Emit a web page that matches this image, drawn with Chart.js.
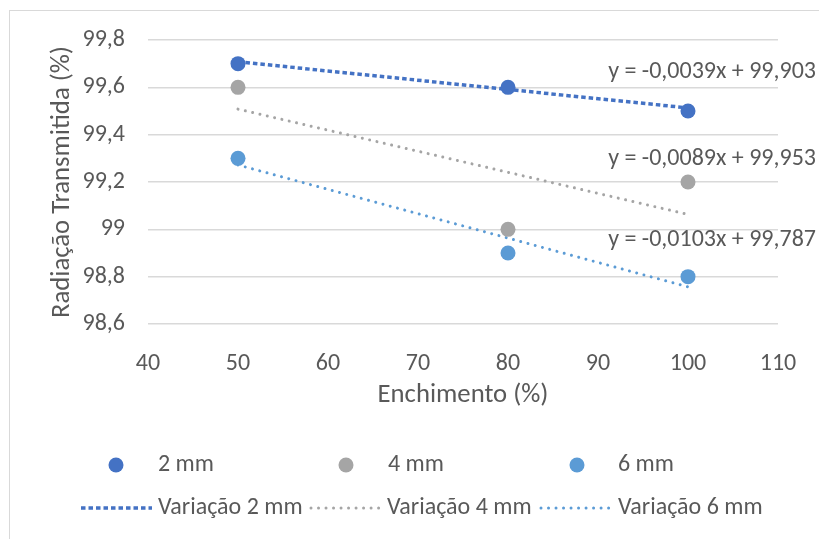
<!DOCTYPE html>
<html>
<head>
<meta charset="utf-8">
<script src="https://cdn.jsdelivr.net/npm/chart.js@4"></script>
<style>
html,body{margin:0;padding:0;background:#fff;overflow:hidden;}
#wrap{position:relative;width:819px;height:539px;}
</style>
</head>
<body>
<div id="wrap"><canvas id="c" width="819" height="539"></canvas></div>
<script>
// ---- data ----
const fillLevels = [50, 80, 100];            // Enchimento (%)
const series2mm = [99.7, 99.6, 99.5];
const series4mm = [99.6, 99.0, 99.2];
const series6mm = [99.3, 98.9, 98.8];
const seriesNames = ['2 mm', '4 mm', '6 mm'];
const trendNames = ['Variação 2 mm', 'Variação 4 mm', 'Variação 6 mm'];
const trendSlopes = [-0.0039, -0.0089, -0.0103];
const trendIntercepts = [99.903, 99.953, 99.787];
const trendLabels = ['y = -0,0039x + 99,903', 'y = -0,0089x + 99,953', 'y = -0,0103x + 99,787'];
const xTicks = [40, 50, 60, 70, 80, 90, 100, 110];
const yTicks = [98.6, 98.8, 99.0, 99.2, 99.4, 99.6, 99.8];

const colors = ['#4472C4', '#A5A5A5', '#5B9BD5'];
const FONT = 'Carlito, Lato, "Open Sans", sans-serif';
const TXT = '#595959';

const allSeries = [series2mm, series4mm, series6mm];
const xMin = Math.min(...fillLevels), xMax = Math.max(...fillLevels);

const pointSets = allSeries.map((s, i) => ({
  type: 'scatter',
  label: seriesNames[i],
  data: fillLevels.map((x, j) => ({x: x, y: s[j]})),
  backgroundColor: colors[i],
  borderColor: colors[i],
  pointRadius: 7.5,
  pointHoverRadius: 7.5,
  borderWidth: 0,
  order: 1
}));
const dashStyles = [
  {w: 3.5, dash: [4.5, 3], cap: 'butt'},
  {w: 3, dash: [0.01, 7.5], cap: 'round'},
  {w: 3, dash: [0.01, 7.5], cap: 'round'}
];
const trendSets = trendSlopes.map((m, i) => ({
  type: 'line',
  label: trendNames[i],
  data: [{x: xMin, y: m * xMin + trendIntercepts[i]}, {x: xMax, y: m * xMax + trendIntercepts[i]}],
  borderColor: colors[i],
  borderWidth: dashStyles[i].w,
  borderDash: dashStyles[i].dash,
  borderCapStyle: dashStyles[i].cap,
  pointRadius: 0,
  fill: false,
  order: 2
}));

function fmt(v) {
  return String(Number(Number(v).toFixed(1))).replace('.', ',');
}

const decor = {
  id: 'decor',
  beforeDraw(chart) {
    const ctx = chart.ctx;
    ctx.save();
    ctx.strokeStyle = '#D9D9D9';
    ctx.lineWidth = 1;
    ctx.strokeRect(9.5, 10.5, 1000, 1000);
    ctx.restore();
  },
  afterDraw(chart) {
    const ctx = chart.ctx;
    const ys = chart.scales.y;
    ctx.save();
    ctx.fillStyle = TXT;
    ctx.textBaseline = 'middle';
    // trendline equation labels
    ctx.font = '24px ' + FONT;
    ctx.textAlign = 'right';
    const labelAnchors = [99.665, 99.297, 98.955];
    trendLabels.forEach((t, i) => {
      ctx.fillText(t, 816, ys.getPixelForValue(labelAnchors[i]));
    });
    // custom legend
    ctx.font = '24px ' + FONT;
    ctx.textAlign = 'left';
    const colX = [116, 346, 577];
    const txtX = [158, 388, 618];
    const lineX = [[81, 152], [311, 379], [541, 609]];
    const row1 = 465, row2 = 508;
    seriesNames.forEach((n, i) => {
      ctx.fillStyle = colors[i];
      ctx.beginPath();
      ctx.arc(colX[i], row1, 7.5, 0, Math.PI * 2);
      ctx.fill();
      ctx.fillStyle = TXT;
      ctx.fillText(n, txtX[i], row1);
    });
    trendNames.forEach((n, i) => {
      ctx.strokeStyle = colors[i];
      ctx.lineWidth = dashStyles[i].w;
      ctx.setLineDash(dashStyles[i].dash);
      ctx.lineCap = dashStyles[i].cap;
      ctx.beginPath();
      ctx.moveTo(lineX[i][0], row2);
      ctx.lineTo(lineX[i][1], row2);
      ctx.stroke();
      ctx.setLineDash([]);
      ctx.fillStyle = TXT;
      ctx.fillText(n, i === 1 ? 387 : txtX[i], row2);
    });
    ctx.restore();
  }
};

new Chart(document.getElementById('c'), {
  data: {datasets: [...trendSets, ...pointSets]},
  options: {
    responsive: false,
    animation: false,
    events: [],
    layout: {padding: {left: 0, top: 40, right: 41, bottom: 0}},
    plugins: {legend: {display: false}, tooltip: {enabled: false}},
    scales: {
      x: {
        type: 'linear',
        min: 40, max: 110,
        afterBuildTicks(s) { s.ticks = xTicks.map(v => ({value: v})); },
        afterFit(s) { s.height = 539 - 324; },
        grid: {display: false},
        border: {display: false},
        ticks: {padding: 17.6, color: TXT, font: {size: 24, family: FONT}},
        title: {display: true, text: 'Enchimento (%)', color: TXT, font: {size: 26.7, family: FONT}, padding: {bottom: 128, top: 0}}
      },
      y: {
        type: 'linear',
        min: 98.6, max: 99.8,
        afterBuildTicks(s) { s.ticks = yTicks.map(v => ({value: v})); },
        afterFit(s) { s.width = 148; },
        grid: {color: '#D9D9D9', lineWidth: 1.5, drawTicks: false},
        border: {display: false},
        ticks: {padding: 23, color: TXT, font: {size: 24, family: FONT}, callback: v => fmt(v)},
        title: {display: true, text: 'Radiação Transmitida (%)', color: TXT, font: {size: 26.7, family: FONT}, padding: {top: 46, bottom: 0}}
      }
    }
  },
  plugins: [decor]
});
</script>
</body>
</html>
